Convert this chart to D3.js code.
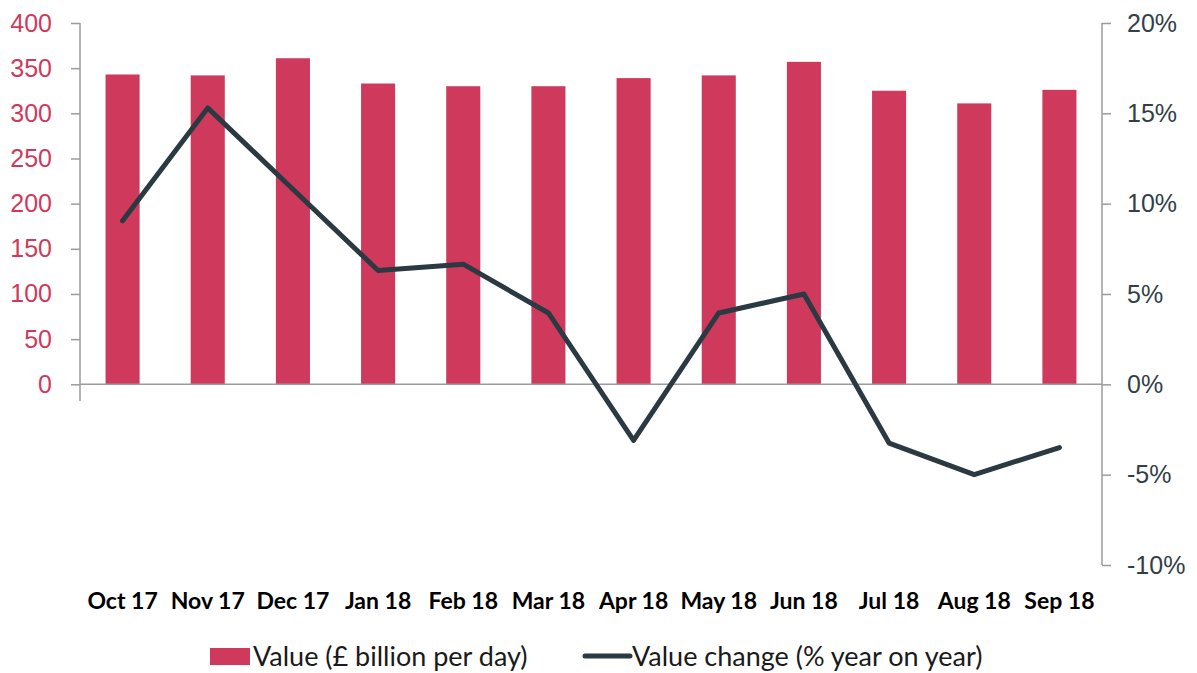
<!DOCTYPE html>
<html>
<head>
<meta charset="utf-8">
<script src="https://cdn.jsdelivr.net/npm/d3@7"></script>
<style>
  body { margin: 0; background: #fff; }
  svg { display: block; font-family: Lato, "Open Sans", sans-serif; }
  .axis path, .axis line { stroke: #9b9b9b; stroke-width: 1.5; }
  .left text { fill: #cf3a5c; font-size: 25px; }
  .right text { fill: #333f48; font-size: 25px; }
  .xlab { font-size: 23px; font-weight: bold; fill: #000; }
  .legend text { font-size: 27px; fill: #1a1a1a; }
</style>
</head>
<body>
<svg id="chart" width="1197" height="673"></svg>
<script>
const months = ['Oct 17', 'Nov 17', 'Dec 17', 'Jan 18', 'Feb 18', 'Mar 18',
  'Apr 18', 'May 18', 'Jun 18', 'Jul 18', 'Aug 18', 'Sep 18'];
const value = [343, 342, 361, 333, 330, 330, 339, 342, 357, 325, 311, 326];
const change = [9.05, 15.3, 10.8, 6.3, 6.65, 3.95, -3.1, 3.95, 5.0, -3.25, -5.0, -3.5];
const leftTicks = [0, 50, 100, 150, 200, 250, 300, 350, 400];
const rightTicks = [-10, -5, 0, 5, 10, 15, 20];

const BAR = '#cf3a5c';
const LINE = '#2b3a42';

const svg = d3.select('#chart');
const X0 = 80, X1 = 1102;

const x = d3.scaleBand().domain(months).range([X0, X1]).paddingInner(0.6).paddingOuter(0.3);
const yL = d3.scaleLinear().domain([0, 400]).range([384.3, 23]);
const yR = d3.scaleLinear().domain([-10, 20]).range([565, 23]);

// bars
svg.append('g')
  .selectAll('rect')
  .data(months)
  .enter()
  .append('rect')
  .attr('x', d => x(d))
  .attr('width', x.bandwidth())
  .attr('y', (d, i) => yL(value[i]))
  .attr('height', (d, i) => yL(0) - yL(value[i]))
  .attr('fill', BAR);

// left axis
const gl = svg.append('g')
  .attr('class', 'axis left')
  .attr('transform', `translate(${X0},0)`)
  .call(d3.axisLeft(yL).tickValues(leftTicks).tickSize(9).tickPadding(19));
gl.select('.domain').remove();
gl.append('line')
  .attr('x1', 0).attr('x2', 0)
  .attr('y1', yL(400)).attr('y2', 401);

// right axis
const gr = svg.append('g')
  .attr('class', 'axis right')
  .attr('transform', `translate(${X1},0)`)
  .call(d3.axisRight(yR).tickValues(rightTicks).tickSize(9).tickPadding(16)
    .tickFormat(d => d + '%'));
gr.select('.domain').remove();
gr.append('line')
  .attr('x1', 0).attr('x2', 0)
  .attr('y1', yR(20)).attr('y2', yR(-10));

// zero baseline
svg.append('line')
  .attr('x1', X0).attr('x2', X1)
  .attr('y1', yL(0)).attr('y2', yL(0))
  .attr('stroke', '#9b9b9b').attr('stroke-width', 1.5);

// line series
const line = d3.line()
  .x((d, i) => x(months[i]) + x.bandwidth() / 2)
  .y(d => yR(d));

svg.append('path')
  .datum(change)
  .attr('d', line)
  .attr('fill', 'none')
  .attr('stroke', LINE)
  .attr('stroke-width', 5)
  .attr('stroke-linejoin', 'round')
  .attr('stroke-linecap', 'round');

// category labels
svg.append('g')
  .selectAll('text')
  .data(months)
  .enter()
  .append('text')
  .attr('class', 'xlab')
  .attr('x', d => x(d) + x.bandwidth() / 2)
  .attr('y', 609)
  .attr('text-anchor', 'middle')
  .text(d => d);

// legend
const lg = svg.append('g').attr('class', 'legend');
lg.append('rect')
  .attr('x', 210).attr('y', 648).attr('width', 40).attr('height', 17)
  .attr('fill', BAR);
lg.append('text').attr('x', 253).attr('y', 666).text('Value (£ billion per day)');
lg.append('line')
  .attr('x1', 585).attr('x2', 630).attr('y1', 656).attr('y2', 656)
  .attr('stroke', LINE).attr('stroke-width', 5).attr('stroke-linecap', 'round');
lg.append('text').attr('x', 632).attr('y', 666).text('Value change (% year on year)');
</script>
</body>
</html>
